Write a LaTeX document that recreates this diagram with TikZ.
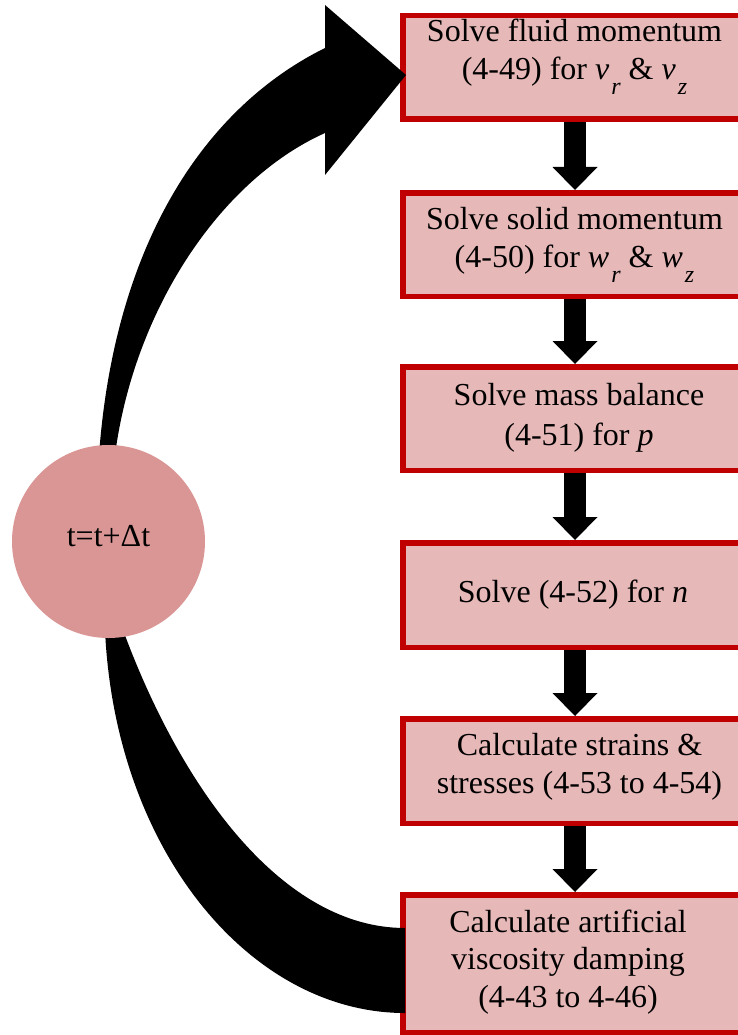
\documentclass[tikz,border=0pt]{standalone}
\usepackage{fontspec}
\setmainfont{Liberation Serif}
\usetikzlibrary{arrows.meta}
\definecolor{boxfill}{HTML}{E6B8B7}
\definecolor{boxline}{HTML}{C00000}
\definecolor{circfill}{HTML}{D99694}
\newcommand\subtxt[1]{\kern2pt\raisebox{-15pt}[0pt][0pt]{\fontsize{24}{24}\selectfont\textit{#1}}}
\begin{document}
\begin{tikzpicture}[x=1pt,y=-1pt,
  stepbox/.style={rectangle, draw=boxline, fill=boxfill, line width=5.5pt,
    minimum width=344.5pt, inner sep=0pt},
  txt/.style={font=\fontsize{32}{38}\selectfont, inner sep=0pt, anchor=base},
  flow/.style={line width=22pt, -{Triangle[width=45pt,length=23pt,line width=0pt]}},
  bigarrow/.style={fill=black}]
\useasboundingbox (0,0) rectangle (738,1035);
% boxes
\node[stepbox, minimum height=103.5pt] (b1) at (575,67.5) {};
\node[stepbox, minimum height=103.5pt] (b2) at (575,244.5) {};
\node[stepbox, minimum height=103.5pt] (b3) at (575,418.5) {};
\node[stepbox, minimum height=104.5pt] (b4) at (575,595) {};
\node[stepbox, minimum height=104.5pt] (b5) at (575,771) {};
\node[stepbox, minimum height=137.5pt] (b6) at (575,963.5) {};
% texts
\node[txt] (t1a) at (574.5,42) {Solve fluid momentum};
\node[txt] (t1b) at (574.5,80) {(4-49) for \textit{v}\subtxt{r} \& \textit{v}\subtxt{z}};
\node[txt] (t2a) at (574.5,229) {Solve solid momentum};
\node[txt] (t2b) at (574.5,267) {(4-50) for \textit{w}\subtxt{r} \& \textit{w}\subtxt{z}};
\node[txt] (t3a) at (579,405) {Solve mass balance};
\node[txt] (t3b) at (579,445) {(4-51) for \textit{p}};
\node[txt] (t4a) at (573,602) {Solve (4-52) for \textit{n}};
\node[txt] (t5a) at (579.5,755) {Calculate strains \&};
\node[txt] (t5b) at (579.5,793) {stresses (4-53 to 4-54)};
\node[txt] (t6a) at (568,932) {Calculate artificial};
\node[txt] (t6b) at (568,969) {viscosity damping};
\node[txt] (t6c) at (568,1007) {(4-43 to 4-46)};
% down arrows
\draw[flow] (b1.south) -- (b2.north);
\draw[flow] (b2.south) -- (b3.north);
\draw[flow] (b3.south) -- (b4.north);
\draw[flow] (b4.south) -- (b5.north);
\draw[flow] (b5.south) -- (b6.north);
% big curved arrows
\fill[bigarrow] (99,455) .. controls (114,250) and (200,110) .. (325,48)
  -- (325,5) -- (406,75) -- (325,175) -- (325,133)
  .. controls (220,180) and (134,310) .. (115,455) -- cycle;
\fill[bigarrow] (105,630) .. controls (115,850) and (250,1013) .. (405,1013)
  -- (405,928) .. controls (283,928) and (182,790) .. (123,630) -- cycle;
% circle
\node[circle, fill=circfill, minimum size=193pt, inner sep=0pt] (c) at (108.5,541.5) {};
\node[txt] (ct) at (108.5,546) {t=t+Δt};
\end{tikzpicture}
\end{document}
